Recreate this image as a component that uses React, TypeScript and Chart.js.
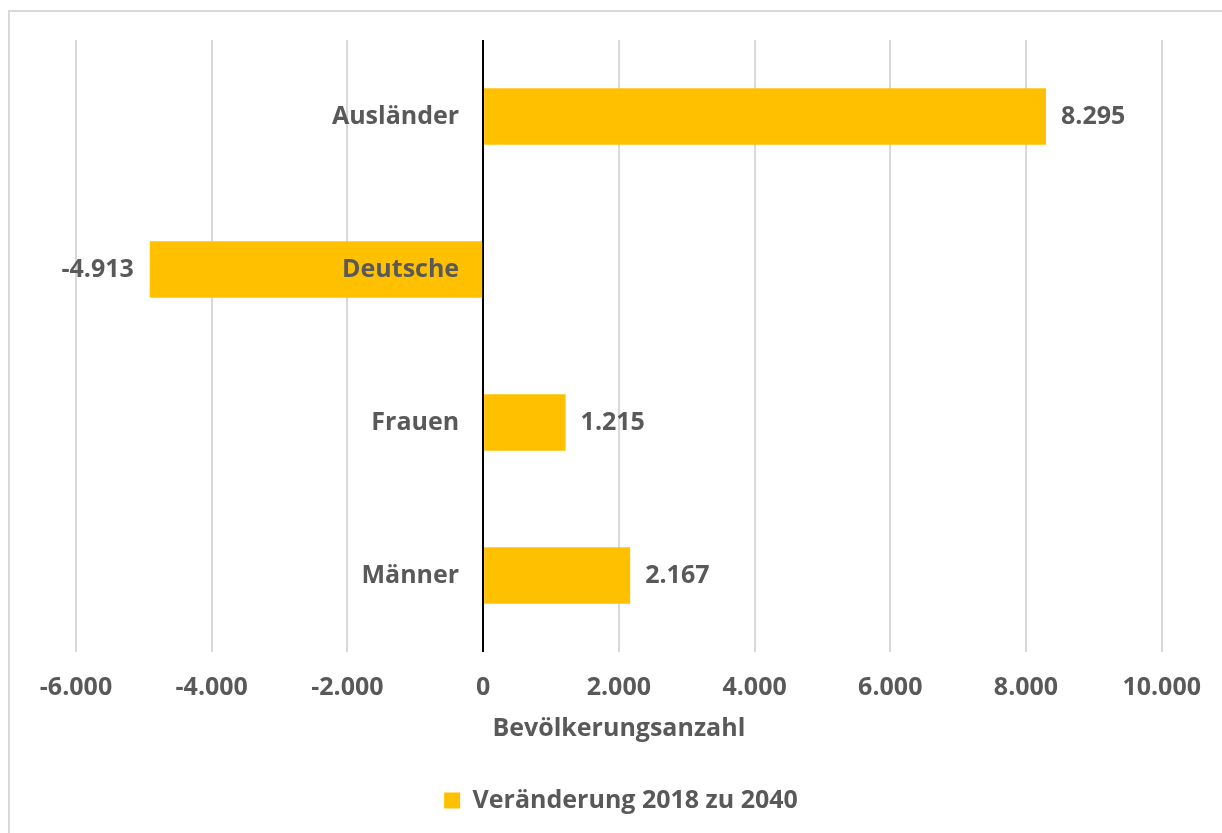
import React, { useEffect, useRef } from 'react';
import { Chart, registerables } from 'chart.js';

Chart.register(...registerables);

const categories: string[] = ['Ausländer', 'Deutsche', 'Frauen', 'Männer'];
const values: number[] = [8295, -4913, 1215, 2167];
const seriesLabel = 'Veränderung 2018 zu 2040';
const axisTitle = 'Bevölkerungsanzahl';
const xMin = -6000;
const xMax = 10000;
const xStep = 2000;

const FONT = '"Open Sans", "Noto Sans", sans-serif';
const FS = 25;
const TEXT = '#595959';
const BAR = '#FFC000';
const GRID = '#d9d9d9';

function fmt(n: number): string {
  const s = Math.abs(Math.round(n))
    .toString()
    .replace(/\B(?=(\d{3})+(?!\d))/g, '.');
  return (n < 0 ? '-' : '') + s;
}

const labelPlugin = {
  id: 'barLabels',
  afterDatasetsDraw(chart: any) {
    const ctx = chart.ctx;
    const xs = chart.scales.x;
    const ys = chart.scales.y;
    const zero = xs.getPixelForValue(0);
    ctx.save();
    ctx.font = `bold ${FS}px ${FONT}`;
    ctx.fillStyle = TEXT;
    ctx.textBaseline = 'middle';
    categories.forEach((c, i) => {
      const py = ys.getPixelForValue(i);
      ctx.textAlign = 'right';
      ctx.fillText(c, zero - 24, py);
      const v = values[i];
      const px = xs.getPixelForValue(v);
      if (v >= 0) {
        ctx.textAlign = 'left';
        ctx.fillText(fmt(v), px + 15, py);
      } else {
        ctx.textAlign = 'right';
        ctx.fillText(fmt(v), px - 16, py);
      }
    });
    ctx.restore();
  },
};

export default function App() {
  const ref = useRef<HTMLCanvasElement>(null);

  useEffect(() => {
    if (!ref.current) return;
    const chart = new Chart(ref.current, {
      type: 'bar',
      data: {
        labels: categories,
        datasets: [
          {
            label: seriesLabel,
            data: values,
            backgroundColor: BAR,
            borderWidth: 0,
            categoryPercentage: 1,
            barPercentage: 0.368,
          },
        ],
      },
      options: {
        indexAxis: 'y',
        animation: false,
        responsive: false,
        maintainAspectRatio: false,
        layout: { padding: { left: 76, right: 56, top: 40, bottom: 10 } },
        plugins: {
          legend: {
            position: 'bottom',
            labels: {
              boxWidth: 16,
              boxHeight: 16,
              color: TEXT,
              font: { family: FONT, size: FS, weight: 'bold' },
              padding: 10,
            },
          },
          tooltip: { enabled: false },
        },
        scales: {
          x: {
            type: 'linear',
            min: xMin,
            max: xMax,
            border: { display: false },
            grid: {
              drawTicks: false,
              lineWidth: 2,
              color: (c: any) => (c.tick && c.tick.value === 0 ? '#000000' : GRID),
            },
            ticks: {
              stepSize: xStep,
              padding: 21,
              color: TEXT,
              font: { family: FONT, size: FS, weight: 'bold' },
              callback: (v: any) => fmt(Number(v)),
              maxRotation: 0,
            },
            title: {
              display: true,
              text: axisTitle,
              color: TEXT,
              font: { family: FONT, size: FS, weight: 'bold' },
              padding: { top: 4, bottom: 34 },
            },
            afterFit: (s: any) => {
              s.height = 126;
            },
          },
          y: {
            display: false,
          },
        },
      },
      plugins: [labelPlugin],
    });
    return () => chart.destroy();
  }, []);

  return (
    <div
      style={{
        position: 'fixed',
        left: 0,
        top: 0,
        width: 1222,
        height: 833,
        overflow: 'hidden',
        background: '#ffffff',
      }}
    >
      <div
        style={{
          position: 'absolute',
          left: 8,
          top: 10,
          width: 1300,
          height: 900,
          border: '2px solid #d9d9d9',
          boxSizing: 'border-box',
        }}
      />
      <canvas
        ref={ref}
        width={1222}
        height={833}
        style={{ position: 'absolute', left: 0, top: 0, width: 1222, height: 833 }}
      />
    </div>
  );
}
